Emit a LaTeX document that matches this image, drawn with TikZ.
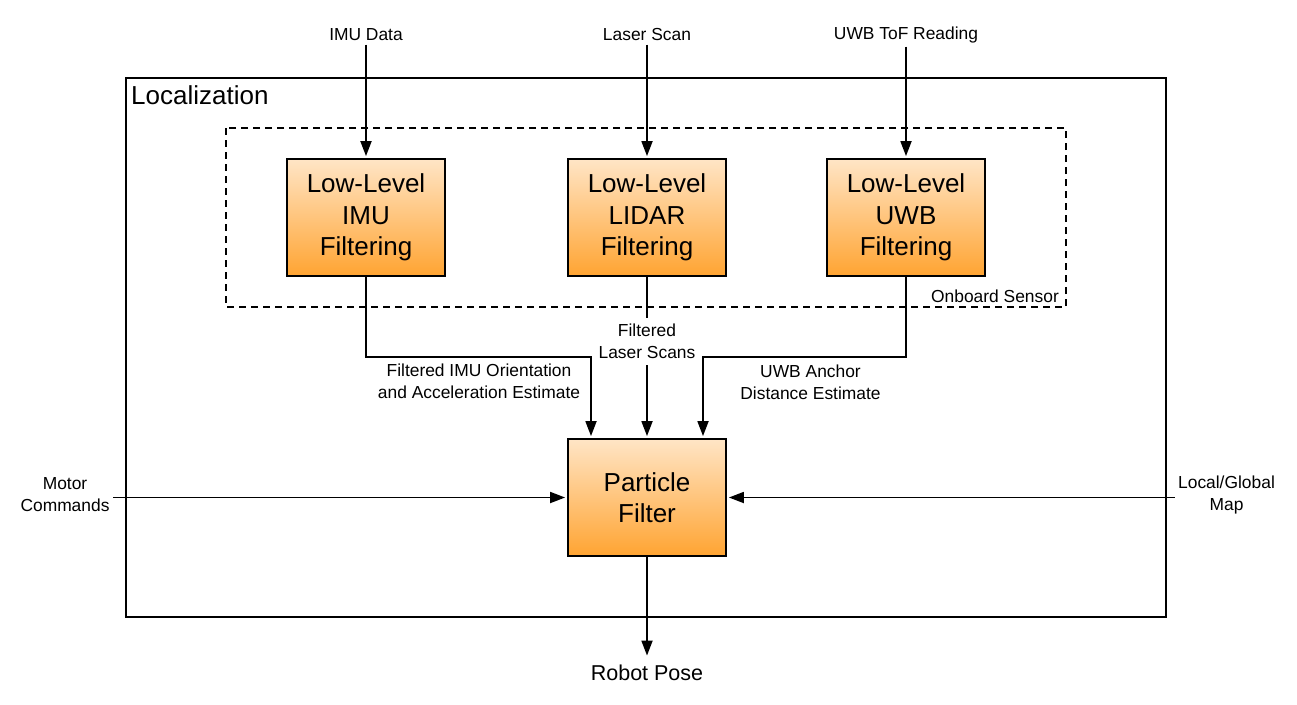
\documentclass[tikz,border=0pt]{standalone}
\usepackage{fontspec}
\setmainfont{Liberation Sans}
\usetikzlibrary{arrows.meta}
\definecolor{filtertop}{RGB}{255,229,198}
\definecolor{filterbot}{RGB}{255,164,50}
\begin{document}
\begin{tikzpicture}[
  x = 1pt, y = -1pt,
  filter/.style = {draw, line width = 1.8pt, minimum width = 158pt, minimum height = 117pt,
                   top color = filtertop, bottom color = filterbot, align = center,
                   font = \fontsize{26}{31.5}\selectfont},
  lbl/.style = {align = center, font = \fontsize{17.4}{22}\selectfont},
  flow/.style = {line width = 1.8pt, -{Triangle[length = 15pt, width = 11pt]}, shorten > = 2pt},
  ]
  \useasboundingbox (0,0) rectangle (1297,704);
  \coordinate (locnw) at (126,78);
  \coordinate (locse) at (1166,617);
  \coordinate (sensnw) at (226,128);
  \coordinate (sensse) at (1066,307);
  \draw[line width = 1.8pt] (locnw) rectangle (locse);
  \draw[line width = 1.8pt, dash pattern = on 7pt off 5pt] (sensnw) rectangle (sensse);
  \node[anchor = north west, inner xsep = 5pt, inner ysep = 7pt,
        font = \fontsize{26}{31}\selectfont] (loctitle) at (locnw) {Localization};
  \node[lbl] (senstitle) at (995,296) {Onboard Sensor};

  \node[filter] (imu) at (366,217.5) {Low-Level\\IMU\\Filtering};
  \node[filter] (lidar) at (647,217.5) {Low-Level\\LIDAR\\Filtering};
  \node[filter] (uwb) at (906,217.5) {Low-Level\\UWB\\Filtering};
  \node[filter] (pf) at (647,497.5) {Particle\\Filter};

  \node[lbl] (imudata) at (366,35) {IMU Data};
  \node[lbl] (laserscan) at (647,35) {Laser Scan};
  \node[lbl] (uwbtof) at (906,35) {UWB ToF Reading};
  \node[lbl] (motor) at (65,495) {Motor\\Commands};
  \node[lbl] (map) at (1226.5,495) {Local/Global\\Map};
  \node[font = \fontsize{21.5}{26}\selectfont] (pose) at (647,673) {Robot Pose};
  \node[lbl] (imuest) at (479,381) {Filtered IMU Orientation\\and Acceleration Estimate};
  \node[lbl] (uwbest) at (810.5,382) {UWB Anchor\\Distance Estimate};

  \draw[flow] (imudata) -- (imu);
  \draw[flow] (laserscan) -- (lidar);
  \draw[flow] (uwbtof) -- (uwb);
  \draw[flow] (lidar) -- node[lbl, fill = white, pos = 0.4, inner ysep = 6pt] {Filtered\\Laser Scans} (pf);
  \draw[flow] (imu.south) -- ++(0,80) -| ([xshift = -56pt]pf.north);
  \draw[flow] (uwb.south) -- ++(0,80) -| ([xshift = 56pt]pf.north);
  \draw[flow] (motor.east |- pf) -- (pf.west);
  \draw[flow] (map.west |- pf) -- (pf.east);
  \draw[flow, shorten > = 6pt] (pf) -- (pose);
\end{tikzpicture}
\end{document}
